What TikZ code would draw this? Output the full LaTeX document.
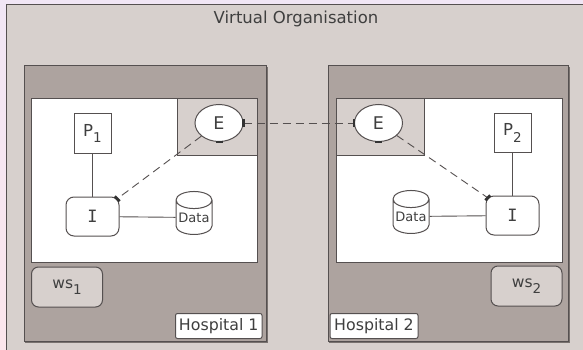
\documentclass[tikz,border=0pt]{standalone}
\usepackage{fontspec}
\setmainfont{DejaVu Sans}
\newfontfamily\monofam{DejaVu Sans Mono}
\usetikzlibrary{shapes.geometric,positioning}
\definecolor{bgtop}{HTML}{F1E6F5}
\definecolor{bgbot}{HTML}{FCE6EC}
\definecolor{voGrey}{HTML}{D7D0CD}
\definecolor{hospGrey}{HTML}{ADA39F}
\definecolor{edgeGrey}{HTML}{555050}
\definecolor{txtGrey}{HTML}{3F3F3F}
\newcommand{\subidx}[1]{\raisebox{-0.38em}{\fontsize{13.5}{13.5}\selectfont#1}}
\begin{document}
\begin{tikzpicture}[x=1pt,y=-1pt,
box line/.style={draw=edgeGrey,line width=1pt},
org area/.style={box line,fill=voGrey},
hosp area/.style={box line,fill=hospGrey},
work area/.style={box line,fill=white},
gate area/.style={box line,fill=voGrey},
service/.style={ellipse,box line,fill=white,inner sep=0pt,minimum width=48pt,minimum height=37pt,text=txtGrey,font=\fontsize{17.5}{17.5}\selectfont},
actor/.style={rectangle,box line,fill=white,inner sep=0pt,minimum width=37pt,minimum height=39pt,text=txtGrey,font=\fontsize{16.5}{16.5}\selectfont},
infra/.style={rectangle,rounded corners=8pt,box line,fill=white,inner sep=0pt,minimum width=53pt,minimum height=39pt,text=txtGrey,font=\monofam\fontsize{17}{17}\selectfont},
store/.style={cylinder,shape border rotate=90,aspect=0.55,box line,fill=white,inner sep=0pt,minimum width=36pt,minimum height=43pt,text=txtGrey,font=\fontsize{13}{13}\selectfont},
wsbox/.style={rectangle,rounded corners=7pt,box line,fill=voGrey,inner sep=0pt,minimum width=71pt,minimum height=40pt,text=txtGrey,font=\fontsize{15.5}{15.5}\selectfont},
hosp label/.style={rectangle,rounded corners=2pt,box line,fill=white,inner sep=0pt,minimum height=25pt,text=txtGrey,font=\fontsize{15.8}{15.8}\selectfont},
link/.style={draw=edgeGrey,line width=0.9pt},
remote/.style={link,dash pattern=on 8pt off 5pt},
port/.style={draw=black!80,line width=2.8pt}]
\useasboundingbox (0,0) rectangle (583,350);
\shade[top color=bgtop,bottom color=bgbot] (0,0) rectangle (583,350);
\draw[org area] (6,5) rectangle (590,360);
\node[text=txtGrey,font=\fontsize{16.5}{16.5}\selectfont] (vo) at (296,19) {Virtual Organisation};
\draw[draw=hospGrey!70!black,line width=1pt] (25.7,67.2) rectangle (267.2,342.2);
\draw[hosp area] (24.5,66) rectangle (266,341);
\draw[draw=hospGrey!70!black,line width=1pt] (329.2,67.2) rectangle (569.2,342.2);
\draw[hosp area] (328,66) rectangle (568,341);
\draw[work area] (31.6,98.5) rectangle (257,262.7);
\draw[work area] (336,98.5) rectangle (562,262.7);
\draw[gate area] (177,98.5) rectangle (257,155.7);
\draw[gate area] (336,98.5) rectangle (424,155.7);
\node[service] (e1) at (219,123) {E};
\node[service] (e2) at (378.5,123) {E};
\node[actor] (p1) at (92.5,133.5) {P\subidx{1}};
\node[actor] (p2) at (512.5,133) {P\subidx{2}};
\node[infra] (i1) at (92.5,216.5) {I};
\node[infra] (i2) at (512.5,215.5) {I};
\node[store] (d1) at (194,217.5) {\raisebox{-0.45em}{Data}};
\node[store] (d2) at (411,216.5) {\raisebox{-0.45em}{Data}};
\node[wsbox] (ws1) at (67,287) {ws\subidx{1}};
\node[wsbox] (ws2) at (526.5,286) {ws\subidx{2}};
\node[hosp label,minimum width=86.5pt] (h1) at (218.75,326) {Hospital 1};
\node[hosp label,minimum width=88pt] (h2) at (374,326) {Hospital 2};
\coordinate (i1c) at ([shift={(-2.3,2.3)}]i1.north east);
\coordinate (i2c) at ([shift={(2.3,2.3)}]i2.north west);
\draw[link] (p1) -- (i1);
\draw[link] (p2) -- (i2);
\draw[link] (i1) -- (d1);
\draw[link] (i2) -- (d2);
\draw[remote] (e1) -- (i1c);
\draw[remote] (e2) -- (i2c);
\draw[remote] (e1.east) -- (e2.west);
\draw[port] ([xshift=-3.5pt]e1.south) -- ([xshift=3.5pt]e1.south);
\draw[port] ([yshift=-3.5pt]e1.east) -- ([yshift=3.5pt]e1.east);
\draw[port] ([xshift=-3.5pt]e2.south) -- ([xshift=3.5pt]e2.south);
\draw[port] ([yshift=-3.5pt]e2.west) -- ([yshift=3.5pt]e2.west);
\draw[port] ([shift={(-2.4,-2.4)}]i1c) -- ([shift={(2.4,2.4)}]i1c);
\draw[port] ([shift={(-2.4,2.4)}]i2c) -- ([shift={(2.4,-2.4)}]i2c);
\end{tikzpicture}
\end{document}
